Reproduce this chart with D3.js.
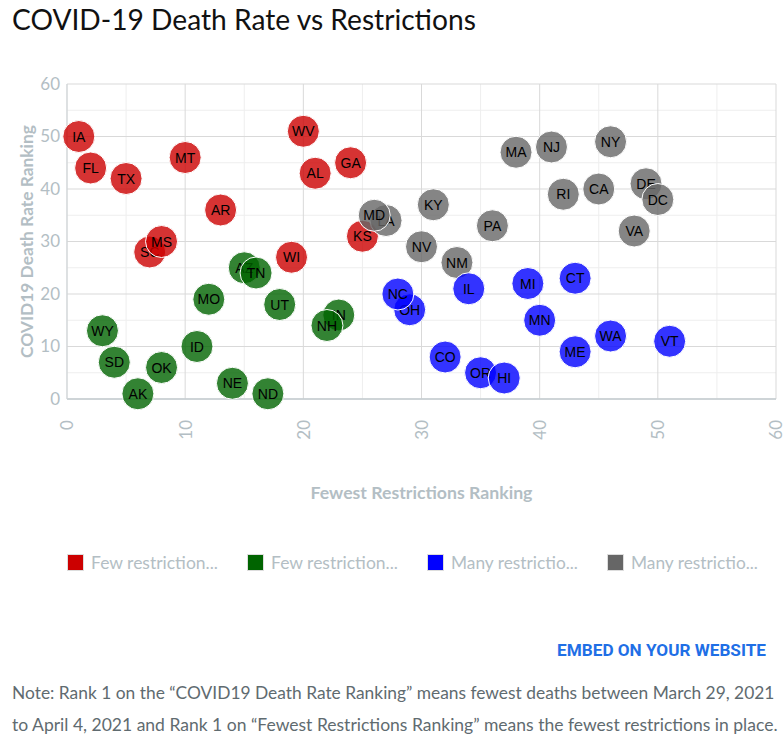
<!DOCTYPE html>
<html>
<head>
<meta charset="utf-8">
<script src="https://cdn.jsdelivr.net/npm/d3@7"></script>
<style>
  html, body { margin: 0; padding: 0; background: #fff; }
  svg { display: block; }
</style>
</head>
<body>
<div id="chart"></div>
<script>
// ---------- data ----------
const redStates = ["IA","FL","TX","MT","AR","SC","MS","WV","AL","GA","KS","WI"];
const redX      = [1, 2, 5, 10, 13, 7, 8, 20, 21, 24, 25, 19];
const redY      = [50, 44, 42, 46, 36, 28, 30, 51, 43, 45, 31, 27];

const greenStates = ["WY","SD","AK","OK","ID","MO","NE","AZ","TN","ND","UT","IN","NH"];
const greenX      = [3, 4, 6, 8, 11, 12, 14, 15, 16, 17, 18, 23, 22];
const greenY      = [13, 7, 1, 6, 10, 19, 3, 25, 24, 1, 18, 16, 14];

const grayStates = ["MA","NJ","NY","RI","CA","DE","DC","VA","PA","KY","NV","NM","LA","MD"];
const grayX      = [38, 41, 46, 42, 45, 49, 50, 48, 36, 31, 30, 33, 27, 26];
const grayY      = [47, 48, 49, 39, 40, 41, 38, 32, 33, 37, 29, 26, 34, 35];

const blueStates = ["OH","NC","IL","MI","CT","MN","WA","VT","ME","CO","OR","HI"];
const blueX      = [29, 28, 34, 39, 43, 40, 46, 51, 43, 32, 35, 37];
const blueY      = [17, 20, 21, 22, 23, 15, 12, 11, 9, 8, 5, 4];

const seriesNames  = ["Few restriction...", "Few restriction...", "Many restrictio...", "Many restrictio..."];
const seriesColors = ["#cc0000", "#006400", "#0000ff", "#666666"];

const xTicks = [0, 10, 20, 30, 40, 50, 60];
const yTicks = [0, 10, 20, 30, 40, 50, 60];

const titleText = "COVID-19 Death Rate vs Restrictions";
const xTitle = "Fewest Restrictions Ranking";
const yTitle = "COVID19 Death Rate Ranking";
const embedText = "EMBED ON YOUR WEBSITE";
const noteLines = [
  "Note: Rank 1 on the \u201cCOVID19 Death Rate Ranking\u201d means fewest deaths between March 29, 2021",
  "to April 4, 2021 and Rank 1 on \u201cFewest Restrictions Ranking\u201d means the fewest restrictions in place."
];

// ---------- build ----------
function mk(states, xs, ys, color) {
  return states.map((s, i) => ({ s, x: xs[i], y: ys[i], color }));
}
// draw order: red, green, gray, blue
const drawSeries = [
  mk(redStates, redX, redY, seriesColors[0]),
  mk(greenStates, greenX, greenY, seriesColors[1]),
  mk(grayStates, grayX, grayY, seriesColors[3]),
  mk(blueStates, blueX, blueY, seriesColors[2])
];

const W = 784, H = 747;
const svg = d3.select("#chart").append("svg").attr("width", W).attr("height", H);
const FONT = "Lato, 'Open Sans', sans-serif";
const TICKC = "#b3bec4";

const x = d3.scaleLinear().domain([0, 60]).range([67, 776]);
const y = d3.scaleLinear().domain([0, 60]).range([399, 84]);

function fit(sel, target) {
  const node = sel.node();
  const fs = parseFloat(sel.attr("font-size"));
  const w = node.getComputedTextLength();
  if (w > 0) sel.attr("font-size", (fs * target / w).toFixed(2));
}

// title
const t = svg.append("text").attr("x", 12).attr("y", 30)
  .attr("font-family", FONT).attr("font-size", 25).attr("fill", "#111")
  .text(titleText);
fit(t, 464);

// grid
const g = svg.append("g");
const minor = d3.range(5, 60, 10);
g.selectAll(".vminor").data(minor).join("line")
  .attr("x1", d => x(d)).attr("x2", d => x(d)).attr("y1", y(60)).attr("y2", y(0))
  .attr("stroke", "#eeeeee").attr("stroke-width", 1);
g.selectAll(".hminor").data(minor).join("line")
  .attr("y1", d => y(d)).attr("y2", d => y(d)).attr("x1", x(0)).attr("x2", x(60))
  .attr("stroke", "#eeeeee").attr("stroke-width", 1);
g.selectAll(".vmajor").data(xTicks).join("line")
  .attr("x1", d => x(d)).attr("x2", d => x(d)).attr("y1", y(60)).attr("y2", y(0))
  .attr("stroke", "#d9d9d9").attr("stroke-width", 1);
g.selectAll(".hmajor").data(yTicks).join("line")
  .attr("y1", d => y(d)).attr("y2", d => y(d)).attr("x1", x(0)).attr("x2", x(60))
  .attr("stroke", "#d9d9d9").attr("stroke-width", 1);
// axis lines
g.append("line").attr("x1", x(0)).attr("x2", x(60)).attr("y1", y(0)).attr("y2", y(0))
  .attr("stroke", "#c4ccd0").attr("stroke-width", 1.5);
g.append("line").attr("x1", x(0)).attr("x2", x(0)).attr("y1", y(0)).attr("y2", y(60))
  .attr("stroke", "#cfd5d8").attr("stroke-width", 1);

// axes via d3
const yAxis = svg.append("g").attr("transform", `translate(${x(0)},0)`)
  .call(d3.axisLeft(y).tickValues(yTicks).tickSize(0).tickPadding(7));
yAxis.select(".domain").remove();
yAxis.selectAll("text").attr("font-family", FONT).attr("font-size", 17).attr("fill", TICKC);

const xAxis = svg.append("g").attr("transform", `translate(0,${y(0)})`)
  .call(d3.axisBottom(x).tickValues(xTicks).tickSize(0));
xAxis.select(".domain").remove();
xAxis.selectAll("text").attr("font-family", FONT).attr("font-size", 17).attr("fill", TICKC)
  .attr("transform", "rotate(-90)").attr("text-anchor", "end")
  .attr("x", -21).attr("y", 0).attr("dy", "0.35em");

// axis titles
const yt = svg.append("text").attr("transform", `translate(33,${(y(0) + y(60)) / 2}) rotate(-90)`)
  .attr("text-anchor", "middle").attr("font-family", FONT).attr("font-weight", 700)
  .attr("font-size", 16).attr("fill", TICKC).text(yTitle);
fit(yt, 233);
const xt = svg.append("text").attr("x", (x(0) + x(60)) / 2).attr("y", 499)
  .attr("text-anchor", "middle").attr("font-family", FONT).attr("font-weight", 700)
  .attr("font-size", 16).attr("fill", TICKC).text(xTitle);
fit(xt, 222);

// points
const pts = svg.append("g");
drawSeries.forEach(series => {
  const gg = pts.selectAll(null).data(series).join("g")
    .attr("transform", d => `translate(${x(d.x)},${y(d.y)})`);
  gg.append("circle").attr("r", 16)
    .attr("fill", d => d.color).attr("fill-opacity", 0.8)
    .attr("stroke", "#ffffff").attr("stroke-width", 1);
  gg.append("text").attr("text-anchor", "middle").attr("dy", "0.36em")
    .attr("font-family", "'Liberation Sans', Arial, sans-serif").attr("font-size", 14)
    .attr("fill", "#000").text(d => d.s);
});

// legend
const legX = [67, 247, 427, 607];
const leg = svg.append("g").selectAll("g").data(seriesNames).join("g")
  .attr("transform", (d, i) => `translate(${legX[i]},554)`);
leg.append("rect").attr("x", 0.5).attr("y", 0.5).attr("width", 16).attr("height", 16)
  .attr("fill", (d, i) => seriesColors[i])
  .attr("stroke", "#dddddd").attr("stroke-width", 1);
leg.append("text").attr("x", 24).attr("y", 9).attr("dy", "0.35em")
  .attr("font-family", FONT).attr("font-size", 16).attr("fill", TICKC)
  .text(d => d)
  .each(function() { fit(d3.select(this), 127); });

// embed
const em = svg.append("text").attr("x", 766).attr("y", 656).attr("text-anchor", "end")
  .attr("font-family", "'Liberation Sans Narrow', 'Roboto', sans-serif").attr("font-weight", 700)
  .attr("font-size", 15).attr("fill", "#1f6fe6").text(embedText);
fit(em, 209);

// note
noteLines.forEach((line, i) => {
  const n = svg.append("text").attr("x", 12).attr("y", 699 + i * 32)
    .attr("font-family", FONT).attr("font-size", 16).attr("fill", "#5f6b70").text(line);
  fit(n, i === 0 ? 763 : 766);
});
</script>
</body>
</html>
